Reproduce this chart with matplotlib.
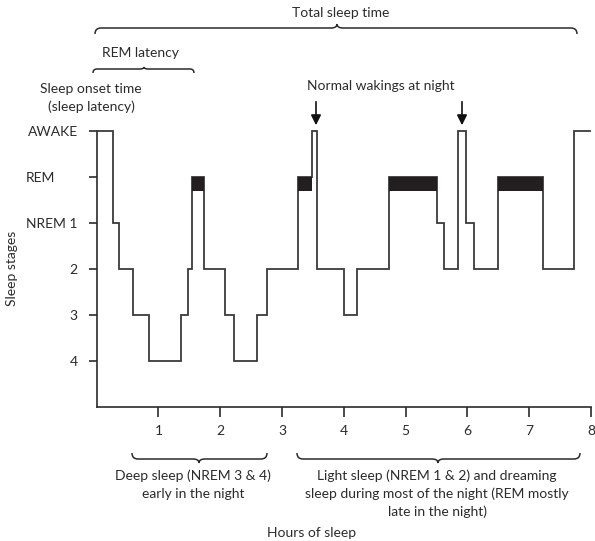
import matplotlib
matplotlib.use("Agg")
import matplotlib.pyplot as plt
from matplotlib.path import Path
from matplotlib.patches import PathPatch, FancyArrowPatch
from matplotlib.transforms import Affine2D, ScaledTranslation

# ---------------- data ----------------
stage_labels = ["AWAKE", "REM", "NREM 1", "2", "3", "4"]
# stage levels: 0=AWAKE, 1=REM, 2=NREM1, 3=stage 2, 4=stage 3, 5=stage 4
boundaries = [0, 0.26, 0.36, 0.59, 0.84, 1.36, 1.48, 1.54, 1.74, 2.07, 2.23,
              2.59, 2.75, 3.25, 3.48, 3.57, 4.00, 4.22, 4.73, 5.51, 5.62,
              5.85, 5.98, 6.10, 6.49, 7.22, 7.72, 7.98]
stages = ["AWAKE", "NREM 1", "2", "3", "4", "3", "2", "REM", "2", "3", "4",
          "3", "2", "REM", "AWAKE", "2", "3", "2", "REM", "NREM 1", "2",
          "AWAKE", "NREM 1", "2", "REM", "2", "AWAKE"]
hour_ticks = [1, 2, 3, 4, 5, 6, 7, 8]

# ---------------- figure ----------------
W, H = 595, 541
fig = plt.figure(figsize=(W / 100, H / 100), dpi=100)
plt.rcParams['font.family'] = ['Lato', 'DejaVu Sans']
ink = "#2b2b2b"
fs = 10

ax = fig.add_axes([96.7 / W, 1 - 406.7 / H, (591 - 96.7) / W, (406.7 - 131) / H])
px = Affine2D().scale(1 / W, -1 / H).translate(0, 1) + fig.transFigure

level = {name: i for i, name in enumerate(stage_labels)}
lv = [level[s] for s in stages]
xs, ys = [], []
for i, l in enumerate(lv):
    xs += [boundaries[i], boundaries[i + 1]]
    ys += [l, l]
ax.plot(xs, ys, color="#3a3a3a", lw=1.3, clip_on=False, solid_joinstyle="miter", zorder=3)

# REM blocks
for i, s in enumerate(stages):
    if s == "REM":
        ax.bar(boundaries[i], 0.31, width=boundaries[i + 1] - boundaries[i],
               bottom=level["REM"], align="edge", color="#231f20", zorder=4)

ax.set_xlim(0, 8)
ax.set_ylim(6, 0)
ax.set_yticks(range(len(stage_labels)))
ax.set_yticklabels(stage_labels)
ax.set_xticks(hour_ticks)
ax.set_xticklabels([str(h) for h in hour_ticks])
for sp in ["top", "right"]:
    ax.spines[sp].set_visible(False)
for sp in ["left", "bottom"]:
    ax.spines[sp].set_color(ink)
    ax.spines[sp].set_linewidth(1.2)
ax.spines["left"].set_bounds(6, 0)
ax.tick_params(axis="y", length=6, width=1.2, color=ink, pad=7.7, labelsize=fs, labelcolor=ink)
ax.tick_params(axis="x", length=7, width=1.2, color=ink, pad=6, labelsize=fs, labelcolor=ink)
ax.patch.set_visible(False)

# the REM label sits left-aligned with AWAKE / NREM 1 in the reference
rem_lab = ax.get_yticklabels()[level["REM"]]
rem_lab.set_transform(rem_lab.get_transform() + ScaledTranslation(-0.23, 0, fig.dpi_scale_trans))


def brace(x0, x1, y, xm, s, d=5, tip=4):
    # s=+1: ends curl down (pixel y increases), tip points up; s=-1 opposite
    verts = [(x0, y + s * d), (x0, y), (x0 + d, y),
             (xm - d, y), (xm, y), (xm, y - s * tip),
             (xm, y), (xm + d, y),
             (x1 - d, y), (x1, y), (x1, y + s * d)]
    codes = [Path.MOVETO, Path.CURVE3, Path.CURVE3,
             Path.LINETO, Path.CURVE3, Path.CURVE3,
             Path.CURVE3, Path.CURVE3,
             Path.LINETO, Path.CURVE3, Path.CURVE3]
    fig.add_artist(PathPatch(Path(verts, codes), transform=px, fill=False,
                             edgecolor=ink, lw=1.1))


def txt(x, y, s, **kw):
    fig.text(x, y, s, transform=px, ha="center", va="center", fontsize=fs,
             color=ink, **kw)


# top annotations
brace(95, 577, 28, 337, +1, d=6, tip=4)
txt(341, 13, "Total sleep time")
brace(93, 194, 69, 144, +1, d=4, tip=2)
txt(140, 53, "REM latency")
txt(91, 89, "Sleep onset time")
txt(91, 107, "(sleep latency)")
txt(381, 86, "Normal wakings at night")
for xa in (316, 462):
    fig.add_artist(FancyArrowPatch((xa, 99), (xa, 128), transform=px,
                                   arrowstyle="-|>,head_length=0.6,head_width=0.3",
                                   mutation_scale=10, lw=1.2, color="#111111"))

# bottom annotations
brace(132, 267, 459, 199, -1, d=6, tip=4)
txt(193, 476, "Deep sleep (NREM 3 & 4)")
txt(193, 494, "early in the night")
brace(297, 580, 459, 438, -1, d=6, tip=4)
txt(437, 476, "Light sleep (NREM 1 & 2) and dreaming")
txt(437, 494, "sleep during most of the night (REM mostly")
txt(437, 512, "late in the night)")
txt(312, 533, "Hours of sleep")
txt(12, 268, "Sleep stages", rotation=90)

fig.savefig("out.png", dpi=100)
